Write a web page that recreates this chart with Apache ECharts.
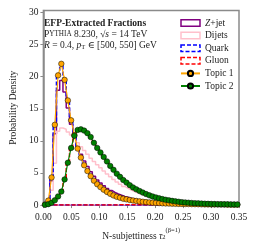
<!DOCTYPE html>
<html><head><meta charset="utf-8">
<script src="https://cdn.jsdelivr.net/npm/echarts@6/dist/echarts.min.js"></script>
<style>html,body{margin:0;padding:0;background:#fff}#c{width:254px;height:246px}</style>
</head><body><div id="c"></div>
<script>
// Histogram range and binning (60 bins over 0..0.35)
const xMin = 0.0, xMax = 0.35, nBins = 60;
const xTicks = [0, 0.05, 0.10, 0.15, 0.20, 0.25, 0.30, 0.35];
const yTicks = [0, 5, 10, 15, 20, 25, 30];

const zjet = [0.09,0.63,3.8,11.1,17.9,19.4,17.6,15.1,12.6,10.9,9.1,7.9,6.85,6.0,5.2,4.5,3.9,3.45,3.0,2.6,
  2.27,1.98,1.73,1.54,1.35,1.21,1.07,0.96,0.86,0.77,0.69,0.62,0.55,0.49,0.44,0.40,0.36,0.33,0.30,0.27,
  0.25,0.23,0.21,0.20,0.18,0.17,0.16,0.15,0.14,0.13,0.12,0.11,0.11,0.10,0.09,0.09,0.08,0.08,0.07,0.07];
const dijets = [0.05,0.4,2.3,6.5,11.5,12.0,11.8,11.4,10.9,10.3,9.7,9.1,8.5,7.9,7.3,6.8,6.3,5.8,5.3,4.85,
  4.4,4.0,3.6,3.25,2.9,2.6,2.35,2.1,1.9,1.7,1.52,1.36,1.22,1.1,0.98,0.88,0.79,0.71,0.64,0.57,
  0.51,0.46,0.41,0.37,0.33,0.3,0.27,0.24,0.22,0.2,0.18,0.16,0.15,0.14,0.13,0.12,0.11,0.1,0.09,0.08];
const quark = [0.1,0.7,4.3,12.5,20.2,22.0,19.5,16.3,13.2,10.9,8.8,7.4,6.2,5.3,4.5,3.8,3.25,2.8,2.4,2.05,
  1.75,1.5,1.3,1.15,1.0,0.9,0.8,0.72,0.65,0.58,0.52,0.47,0.42,0.38,0.34,0.31,0.28,0.26,0.24,0.22,
  0.2,0.19,0.18,0.17,0.16,0.15,0.14,0.13,0.12,0.11,0.1,0.1,0.09,0.09,0.08,0.08,0.07,0.07,0.06,0.06];
const gluon = [0.05,0.15,0.35,0.75,1.35,2.1,4.0,6.6,8.9,10.8,11.7,11.8,11.6,11.2,10.6,9.7,8.9,8.2,7.5,6.8,
  6.1,5.5,4.9,4.4,3.9,3.5,3.1,2.75,2.45,2.2,1.95,1.72,1.52,1.35,1.2,1.06,0.94,0.83,0.74,0.66,
  0.58,0.52,0.46,0.41,0.37,0.33,0.3,0.27,0.24,0.22,0.2,0.18,0.16,0.15,0.14,0.13,0.12,0.11,0.1,0.09];
const topic1 = [0.1,0.7,4.3,12.5,20.2,22.0,19.5,16.3,13.2,10.9,8.8,7.4,6.2,5.3,4.5,3.8,3.25,2.8,2.4,2.05,
  1.75,1.5,1.3,1.15,1.0,0.9,0.8,0.72,0.65,0.58,0.52,0.47,0.42,0.38,0.34,0.31,0.28,0.26,0.24,0.22,
  0.2,0.19,0.18,0.17,0.16,0.15,0.14,0.13,0.12,0.11,0.1,0.1,0.09,0.09,0.08,0.08,0.07,0.07,0.06,0.06];
const topic2 = [0.05,0.15,0.35,0.75,1.35,2.1,4.0,6.6,8.9,10.8,11.7,11.8,11.6,11.2,10.6,9.7,8.9,8.2,7.5,6.8,
  6.1,5.5,4.9,4.4,3.9,3.5,3.1,2.75,2.45,2.2,1.95,1.72,1.52,1.35,1.2,1.06,0.94,0.83,0.74,0.66,
  0.58,0.52,0.46,0.41,0.37,0.33,0.3,0.27,0.24,0.22,0.2,0.18,0.16,0.15,0.14,0.13,0.12,0.11,0.1,0.09];

const names = ['Z+jet','Dijets','Quark','Gluon','Topic 1','Topic 2'];

const binW = (xMax - xMin) / nBins;
function stepPath(vals){
  const pts = [[xMin, 0]];
  vals.forEach((v,i)=>{ pts.push([xMin+i*binW, v]); pts.push([xMin+(i+1)*binW, v]); });
  pts.push([xMax, 0]); pts.push([xMin, 0]);
  return pts;
}
function centers(vals){ return vals.map((v,i)=>[xMin+(i+0.5)*binW, v]); }

const FONT = '"Liberation Serif", "DejaVu Serif", serif';
const GRAY = '#8a8a8a';
const TXT = '#222';

function hist(name, vals, color, dashed){
  return {name, type:'line', data:stepPath(vals), showSymbol:false, symbol:'none',
    lineStyle:{color, width:1.5, type: dashed ? [4,2] : 'solid'}, itemStyle:{color},
    animation:false, silent:true, z:2};
}
function topic(name, vals, color){
  return {name, type:'line', data:centers(vals), symbol:'circle', symbolSize:5.5, showSymbol:true,
    lineStyle:{color, width:1.2}, itemStyle:{color, borderColor:'#000', borderWidth:0.5},
    animation:false, silent:true, z:3};
}

const chart = echarts.init(document.getElementById('c'), null, {renderer:'canvas'});
chart.setOption({
  backgroundColor:'#fff',
  animation:false,
  grid:{left:34, right:15, top:10.5, bottom:37, show:true, borderColor:GRAY, borderWidth:1.5, backgroundColor:'transparent'},
  xAxis:{type:'value', min:xMin, max:xMax, interval:0.05,
    axisLine:{lineStyle:{color:GRAY, width:1.5}},
    axisTick:{show:true, length:3, lineStyle:{color:GRAY, width:1}},
    splitLine:{show:false},
    axisLabel:{color:TXT, fontFamily:FONT, fontSize:9.5, margin:7, formatter:v=>v.toFixed(2)},
    name:'{n|N-subjettiness }{t|τ}{sub|2}{sup|(β=1)}', nameLocation:'middle', nameGap:14,
    nameTextStyle:{color:TXT, fontFamily:FONT, fontSize:9.5, rich:{
      n:{fontFamily:FONT, fontSize:9.5, color:TXT, lineHeight:14, verticalAlign:'bottom'},
      t:{fontFamily:FONT, fontSize:9.5, fontStyle:'italic', color:TXT, verticalAlign:'bottom'},
      sub:{fontFamily:FONT, fontSize:6.5, color:TXT, verticalAlign:'bottom'},
      sup:{fontFamily:FONT, fontSize:6.5, color:TXT, verticalAlign:'top'}}}},
  yAxis:{type:'value', min:0, max:30.3, interval:5,
    axisLine:{show:true, lineStyle:{color:GRAY, width:1.5}},
    axisTick:{show:true, length:3, lineStyle:{color:GRAY, width:1}, customValues:yTicks},
    splitLine:{show:false},
    axisLabel:{color:TXT, fontFamily:FONT, fontSize:9.5, margin:5, customValues:yTicks},
    name:'Probability Density', nameLocation:'middle', nameGap:22,
    nameTextStyle:{color:TXT, fontFamily:FONT, fontSize:9.5}},
  legend:{orient:'vertical', left:175, top:12, itemWidth:19, itemHeight:6.5, itemGap:0.6,
    selectedMode:false,
    textStyle:{color:TXT, fontFamily:FONT, fontSize:9.5, lineHeight:12,
      rich:{i:{fontFamily:FONT, fontSize:9.5, fontStyle:'italic', color:TXT}}},
    formatter:n=> n==='Z+jet' ? '{i|Z}+jet' : n,
    data:[
      {name:names[0], icon:'rect', itemStyle:{color:'rgba(0,0,0,0)', borderColor:'#800080', borderWidth:1.5}},
      {name:names[1], icon:'rect', itemStyle:{color:'rgba(0,0,0,0)', borderColor:'#ffc0cb', borderWidth:1.5}},
      {name:names[2], icon:'rect', itemStyle:{color:'rgba(0,0,0,0)', borderColor:'#0000ff', borderWidth:1.5, borderType:[4,2]}},
      {name:names[3], icon:'rect', itemStyle:{color:'rgba(0,0,0,0)', borderColor:'#ff0000', borderWidth:1.5, borderType:[4,2]}},
      {name:names[4]},
      {name:names[5]}
    ]},
  graphic:[
    {type:'text', left:44, top:18.5, style:{text:'EFP-Extracted Fractions', fontFamily:FONT, fontWeight:'bold', fontSize:9.5, fill:TXT}},
    {type:'text', left:44, top:29.5, style:{text:'{a|P}{b|YTHIA} 8.230, {a|√}{i|s} = 14 TeV', fontFamily:FONT, fontSize:9.5, fill:TXT,
      rich:{a:{fontFamily:FONT, fontSize:9.5, fill:TXT}, b:{fontFamily:FONT, fontSize:7.2, fill:TXT}, i:{fontFamily:FONT, fontSize:9.5, fontStyle:'italic', fill:TXT}}}},
    {type:'text', left:44, top:40, style:{text:'{i|R} = 0.4, {i|p}{s|T} ∈ [500, 550] GeV', fontFamily:FONT, fontSize:9.5, fill:TXT,
      rich:{i:{fontFamily:FONT, fontSize:9.5, fontStyle:'italic', fill:TXT, lineHeight:12}, s:{fontFamily:FONT, fontSize:6.5, fill:TXT, verticalAlign:'bottom'}}}}
  ],
  series:[
    hist(names[0], zjet, '#800080', false),
    hist(names[1], dijets, '#ffc0cb', false),
    hist(names[2], quark, '#0000ff', true),
    hist(names[3], gluon, '#ff0000', true),
    topic(names[4], topic1, '#ffa500'),
    topic(names[5], topic2, '#008000')
  ]
});
</script></body></html>
